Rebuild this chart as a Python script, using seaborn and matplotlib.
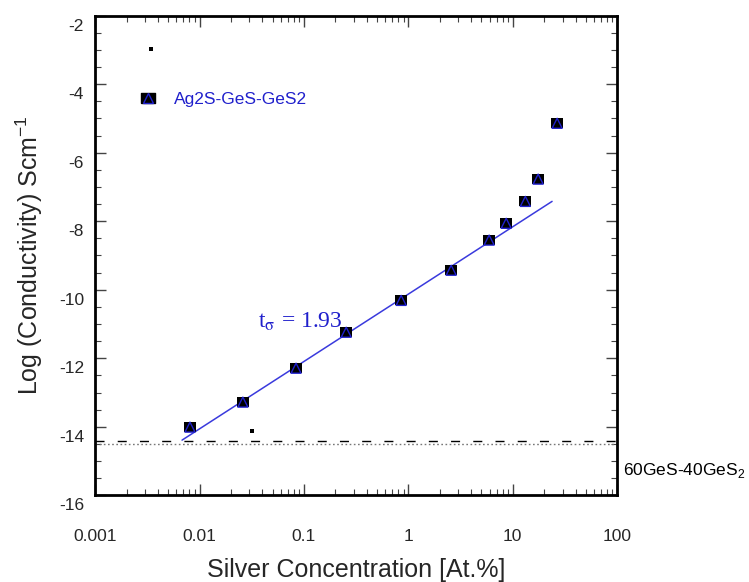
import matplotlib
matplotlib.use("Agg")
import matplotlib.pyplot as plt
import seaborn as sns
import numpy as np
import pandas as pd
from matplotlib.ticker import LogLocator, MultipleLocator, FixedLocator, NullFormatter
from matplotlib.legend_handler import HandlerTuple
from matplotlib.lines import Line2D
from matplotlib.transforms import ScaledTranslation

# data
conc = [0.0081, 0.026, 0.084, 0.254, 0.853, 2.57, 5.94, 8.65, 13.2, 17.5, 26.6]
logcond = [-14.01, -13.28, -12.29, -11.24, -10.31, -9.43, -8.55, -8.06, -7.42, -6.77, -5.14]
stray_x = [0.0034, 0.032]
stray_y = [-2.98, -14.13]
fit_x = [0.0068, 23.8]
fit_y = [-14.39, -7.42]
base_dash = -14.42
base_dot = -14.51
xticks = [0.001, 0.01, 0.1, 1, 10, 100]
xticklabels = ["0.001", "0.01", "0.1", "1", "10", "100"]
yticks = [-16, -14, -12, -10, -8, -6, -4, -2]

sns.set_style("ticks")
plt.rcParams['font.family'] = ['Liberation Sans', 'DejaVu Sans']
plt.rcParams['axes.unicode_minus'] = False

fig = plt.figure(figsize=(7.49, 5.82), dpi=100)
ax = fig.add_axes([0.127, 0.149, 0.697, 0.824])

df = pd.DataFrame({"x": conc, "y": logcond})
blue = "#2020cc"
rect = [(-1, -0.8), (1, -0.8), (1, 0.8), (-1, 0.8), (-1, -0.8)]

ax.axhline(base_dash, color="black", lw=1.0, ls=(0, (6.5, 9.5)), zorder=1)
ax.axhline(base_dot, color="#777777", lw=1.0, ls=(0, (1.2, 1.8)), zorder=1)

sns.lineplot(x=fit_x, y=fit_y, ax=ax, color="#3a3add", lw=1.1, zorder=2)
sns.scatterplot(data=df, x="x", y="y", ax=ax, marker=rect, s=80, color="black",
                edgecolor="black", linewidth=0, zorder=3)
sns.scatterplot(data=df, x="x", y="y", ax=ax, marker="^", s=52, facecolor="none",
                edgecolor=blue, linewidth=1.0, zorder=4)
sns.scatterplot(x=stray_x, y=stray_y, ax=ax, marker="s", s=12, color="black",
                linewidth=0, zorder=3)

ax.set_xscale("log")
ax.set_xlim(0.001, 100)
ax.set_ylim(-16, -2)
ax.xaxis.set_major_locator(FixedLocator(xticks))
ax.set_xticklabels(xticklabels)
ax.xaxis.set_minor_locator(LogLocator(base=10, subs=np.arange(2, 10), numticks=20))
ax.xaxis.set_minor_formatter(NullFormatter())
ax.yaxis.set_major_locator(FixedLocator(yticks))
ax.yaxis.set_minor_locator(MultipleLocator(0.5))

ax.tick_params(which="both", direction="in", top=True, right=True, labelsize=12.5)
ax.tick_params(axis="x", pad=24)
ax.tick_params(axis="y", pad=8)
ax.tick_params(which="major", length=8, width=1.0, color="#444444")
ax.tick_params(which="minor", length=4.5, width=0.8, color="#444444")
for sp in ax.spines.values():
    sp.set_linewidth(2.0)
    sp.set_color("black")

off = ScaledTranslation(0, -9 / 100, fig.dpi_scale_trans)
for lab in ax.get_yticklabels():
    lab.set_transform(lab.get_transform() + off)

ax.set_xlabel("Silver Concentration [At.%]", fontsize=18, labelpad=10)
ax.set_ylabel("Log (Conductivity) Scm$^{\\mathregular{-1}}$", fontsize=18, labelpad=10)

ax.text(0.312, 0.361, "t$_{\\mathrm{\\sigma}}$ = 1.93", transform=ax.transAxes, color=blue,
        fontsize=17, family=["Liberation Serif", "DejaVu Serif"], ha="left", va="center",
        math_fontfamily="stix")
ax.text(1.012, 0.052, "60GeS-40GeS$_\\mathregular{2}$", transform=ax.transAxes, color="black",
        fontsize=12.5, ha="left", va="center")

h1 = Line2D([], [], marker=rect, ms=9.5, color="black", ls="none")
h2 = Line2D([], [], marker="^", ms=6.5, mfc="none", mec=blue, mew=1.0, ls="none")
ax.legend([(h1, h2)], ["Ag2S-GeS-GeS2"], handler_map={tuple: HandlerTuple(ndivide=1)},
          loc="center left", bbox_to_anchor=(0.055, 0.826), frameon=False,
          fontsize=12.5, labelcolor=blue, handletextpad=1.0, handlelength=1.0)

fig.savefig("out.png", dpi=100)
